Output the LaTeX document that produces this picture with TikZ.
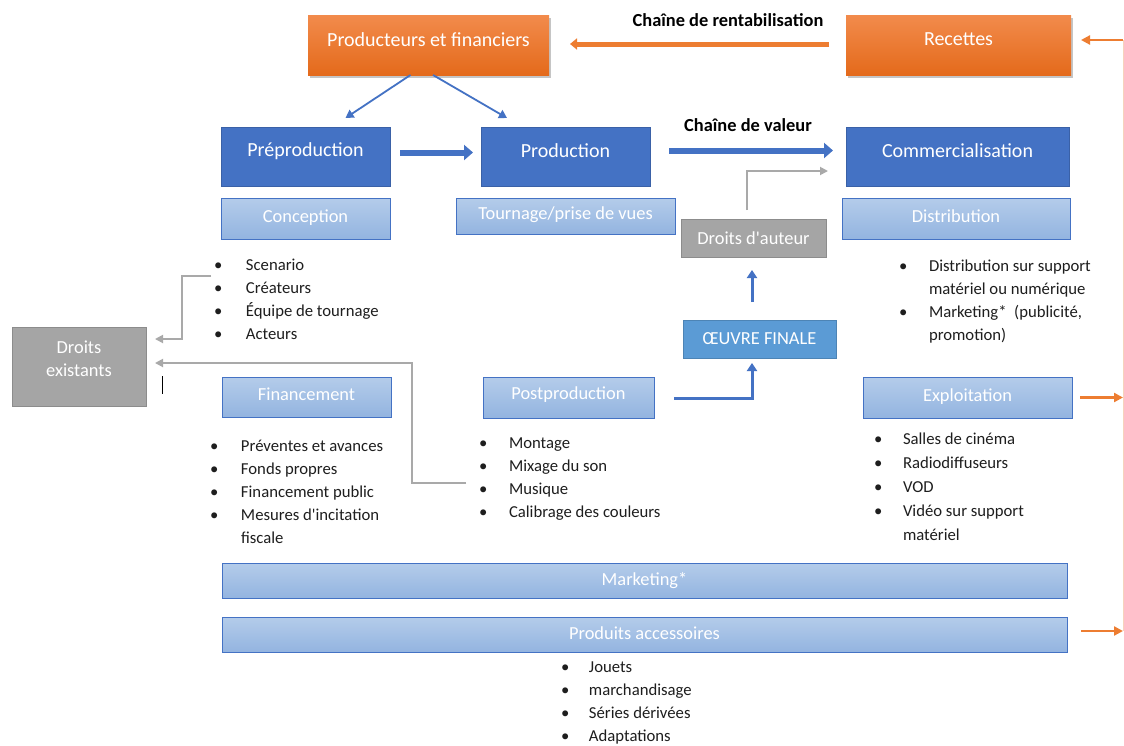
\documentclass[tikz,border=0pt]{standalone}
\usepackage{fontspec}
\setmainfont{Carlito}
\usetikzlibrary{arrows.meta,shadows,calc}
\definecolor{dblue}{HTML}{4472C4}
\definecolor{lbtop}{HTML}{B4CCEA}
\definecolor{lbbot}{HTML}{93B4E0}
\definecolor{gbox}{HTML}{A5A5A5}
\definecolor{gedge}{HTML}{8C8C8C}
\definecolor{gline}{HTML}{A9A9A9}
\definecolor{oblue}{HTML}{5B9BD5}
\definecolor{otop}{HTML}{F28B4C}
\definecolor{obot}{HTML}{E46A1B}
\definecolor{oline}{HTML}{ED7D31}
\definecolor{pale}{HTML}{F6D3BC}
\definecolor{txt}{HTML}{1E1E1E}
\newcommand\lift[2]{\raisebox{#1}[\height][\depth]{#2}}
\newcommand\bl[1]{\makebox[#1][l]{\textbullet}}
\tikzset{
  box/.style={anchor=north west, inner sep=0pt, outer sep=0pt, text=white, align=center},
  darkbox/.style={box, fill=dblue, draw=dblue!85!black, line width=0.8pt, font=\fontsize{20}{23}\selectfont},
  lightbox/.style={box, top color=lbtop, bottom color=lbbot, draw=dblue, line width=0.8pt, font=\fontsize{18.4}{21}\selectfont},
  orangebox/.style={box, top color=otop, bottom color=obot, draw=none, drop shadow={opacity=0.45, shadow xshift=2pt, shadow yshift=-3pt}, font=\fontsize{20}{23}\selectfont},
  graybox/.style={box, fill=gbox, draw=gedge, line width=0.8pt, font=\fontsize{18.4}{23}\selectfont},
  oeuvrebox/.style={box, fill=oblue, draw=oblue!85!black, line width=0.8pt, font=\fontsize{18.4}{21}\selectfont},
  listtext/.style={anchor=base west, inner sep=0pt, outer sep=0pt, text=txt, font=\fontsize{16.7}{23}\selectfont},
  heading/.style={inner sep=0pt, text=black, font=\fontsize{18.4}{21}\selectfont\bfseries},
  thinblue/.style={draw=dblue, line width=1.8pt, -{Triangle[length=8pt,width=9pt]}},
  bigblue/.style={draw=dblue, line width=6pt, -{Triangle[length=9pt,width=15pt]}},
  midblue/.style={draw=dblue, line width=3pt, -{Triangle[length=8pt,width=10pt]}},
  grayconn/.style={draw=gline, line width=1.8pt, -{Triangle[length=8pt,width=8pt]}},
  bigorange/.style={draw=oline, line width=5pt, -{Triangle[length=7pt,width=11pt]}},
  smallorange/.style={draw=oline, line width=2.5pt, -{Triangle[length=9pt,width=9pt]}},
  paleline/.style={draw=pale, line width=1pt}
}
\begin{document}
\begin{tikzpicture}[x=1pt,y=-1pt]
\useasboundingbox (0,0) rectangle (1124,745);
\fill[white] (0,0) rectangle (1124,745);

% top row
\node[orangebox, minimum width=241pt, minimum height=60pt] (pf) at (308,15) {\lift{5pt}{Producteurs et financiers}};
\node[orangebox, minimum width=225pt, minimum height=60pt] (rec) at (846,15) {\lift{6pt}{Recettes}};
\node[heading] (chr) at (728,20) {Chaîne de rentabilisation};

% main stages
\node[darkbox, minimum width=169pt, minimum height=59pt] (pre) at (221,127) {\lift{5pt}{Préproduction}};
\node[darkbox, minimum width=169pt, minimum height=59pt] (prod) at (481,127) {\lift{6pt}{Production}};
\node[darkbox, minimum width=223pt, minimum height=59pt] (comm) at (846,127) {\lift{6pt}{Commercialisation}};
\node[heading] (chv) at (748,125) {Chaîne de valeur};

% sub boxes
\node[lightbox, minimum width=169pt, minimum height=41pt] (conc) at (221,198) {\lift{1pt}{Conception}};
\node[lightbox, minimum width=219pt, minimum height=36pt] (tour) at (456,198) {\lift{1pt}{Tournage/prise de vues}};
\node[lightbox, minimum width=228pt, minimum height=41pt] (dist) at (842,198) {\lift{2pt}{Distribution}};
\node[graybox, minimum width=145pt, minimum height=38pt] (dda) at (681,219) {Droits d\textquotesingle auteur};
\node[oeuvrebox, minimum width=153pt, minimum height=38pt] (oeuvre) at (683,320) {ŒUVRE FINALE};
\node[graybox, minimum width=134pt, minimum height=79pt] (dex) at (12,327) {\lift{6pt}{\begin{tabular}{@{}c@{}}Droits\\existants\end{tabular}}};
\node[lightbox, minimum width=169pt, minimum height=40pt] (fin) at (222,377) {\lift{3pt}{Financement}};
\node[lightbox, minimum width=171pt, minimum height=41pt] (post) at (483,377) {\lift{3pt}{Postproduction}};
\node[lightbox, minimum width=209pt, minimum height=41pt] (expl) at (863,377) {\lift{1pt}{Exploitation}};
\node[lightbox, minimum width=845pt, minimum height=35pt] (mkt) at (222,563) {Marketing*};
\node[lightbox, minimum width=845pt, minimum height=35pt] (pa) at (222,617) {\lift{1pt}{Produits accessoires}};

% lists
\node[listtext] (l1) at (214,270.5) {\begin{tabular}[t]{@{}l@{}l@{}}\bl{32pt}&Scenario\\\bl{32pt}&Créateurs\\\bl{32pt}&Équipe de tournage\\\bl{32pt}&Acteurs\end{tabular}};
\node[listtext] (l2) at (210,451.5) {\begin{tabular}[t]{@{}l@{}l@{}}\bl{31pt}&Préventes et avances\\\bl{31pt}&Fonds propres\\\bl{31pt}&Financement public\\\bl{31pt}&Mesures d\textquotesingle incitation\\&fiscale\end{tabular}};
\node[listtext] (l3) at (479,448.5) {\begin{tabular}[t]{@{}l@{}l@{}}\bl{30pt}&Montage\\\bl{30pt}&Mixage du son\\\bl{30pt}&Musique\\\bl{30pt}&Calibrage des couleurs\end{tabular}};
\node[listtext] (l4) at (899,271.5) {\begin{tabular}[t]{@{}l@{}l@{}}\bl{30pt}&Distribution sur support\\&matériel ou numérique\\\bl{30pt}&Marketing*\ \ (publicité,\\&promotion)\end{tabular}};
\node[listtext, font=\fontsize{16.7}{24}\selectfont] (l5) at (874,444.5) {\begin{tabular}[t]{@{}l@{}l@{}}\bl{29pt}&Salles de cinéma\\\bl{29pt}&Radiodiffuseurs\\\bl{29pt}&VOD\\\bl{29pt}&Vidéo sur support\\&matériel\end{tabular}};
\node[listtext] (l6) at (561,672.5) {\begin{tabular}[t]{@{}l@{}l@{}}\bl{28pt}&Jouets\\\bl{28pt}&marchandisage\\\bl{28pt}&Séries dérivées\\\bl{28pt}&Adaptations\end{tabular}};

% connector end points
\coordinate (c1) at (211,276);
\coordinate (c2) at (466,483);
\coordinate (rt) at (1123,40);
\coordinate (rb) at (1123,631);

% arrows
\draw[bigorange] ($(rec.west)+(-17,-1)$) -- ($(pf.east)+(21,-1)$);
\draw[thinblue] ($(pf.south)+(-18,0)$) -- ($(pre.north)+(40,-9)$);
\draw[thinblue] ($(pf.south)+(4.5,0)$) -- ($(prod.north)+(-58.5,-9)$);
\draw[bigblue] ($(pre.east)+(10,-4)$) -- ($(prod.west)+(-8,-4)$);
\draw[bigblue] ($(prod.east)+(19,-6)$) -- ($(comm.west)+(-13,-6)$);
\draw[grayconn] ($(dda.north)+(-6.5,-9)$) |- ($(comm.west)+(-18,14.5)$);
\draw[midblue] ($(oeuvre.north)+(-7.5,-18)$) -- ($(dda.south)+(-1.5,13)$);
\draw[midblue] ($(post.east)+(20,0.5)$) -| ($(oeuvre.south)+(-7.5,5)$);
\draw[grayconn] (c1) -- ++(-29,0) |- ($(dex.east)+(9,-27.5)$);
\draw[grayconn] (c2) -- ++(-54,0) |- ($(dex.east)+(9,-3.5)$);

% right revenue line
\draw[paleline] (rt) -- (rb);
\draw[smallorange] (rt) -- ($(rec.east)+(10,-5)$);
\draw[smallorange] ($(expl.east)+(8,0)$) -- (expl.east -| rt);
\draw[smallorange] ($(pa.east)+(14,-3.5)$) -- (rb);

% text cursor mark
\draw[black, line width=1pt] (162,376) -- (162,394);
\end{tikzpicture}
\end{document}
